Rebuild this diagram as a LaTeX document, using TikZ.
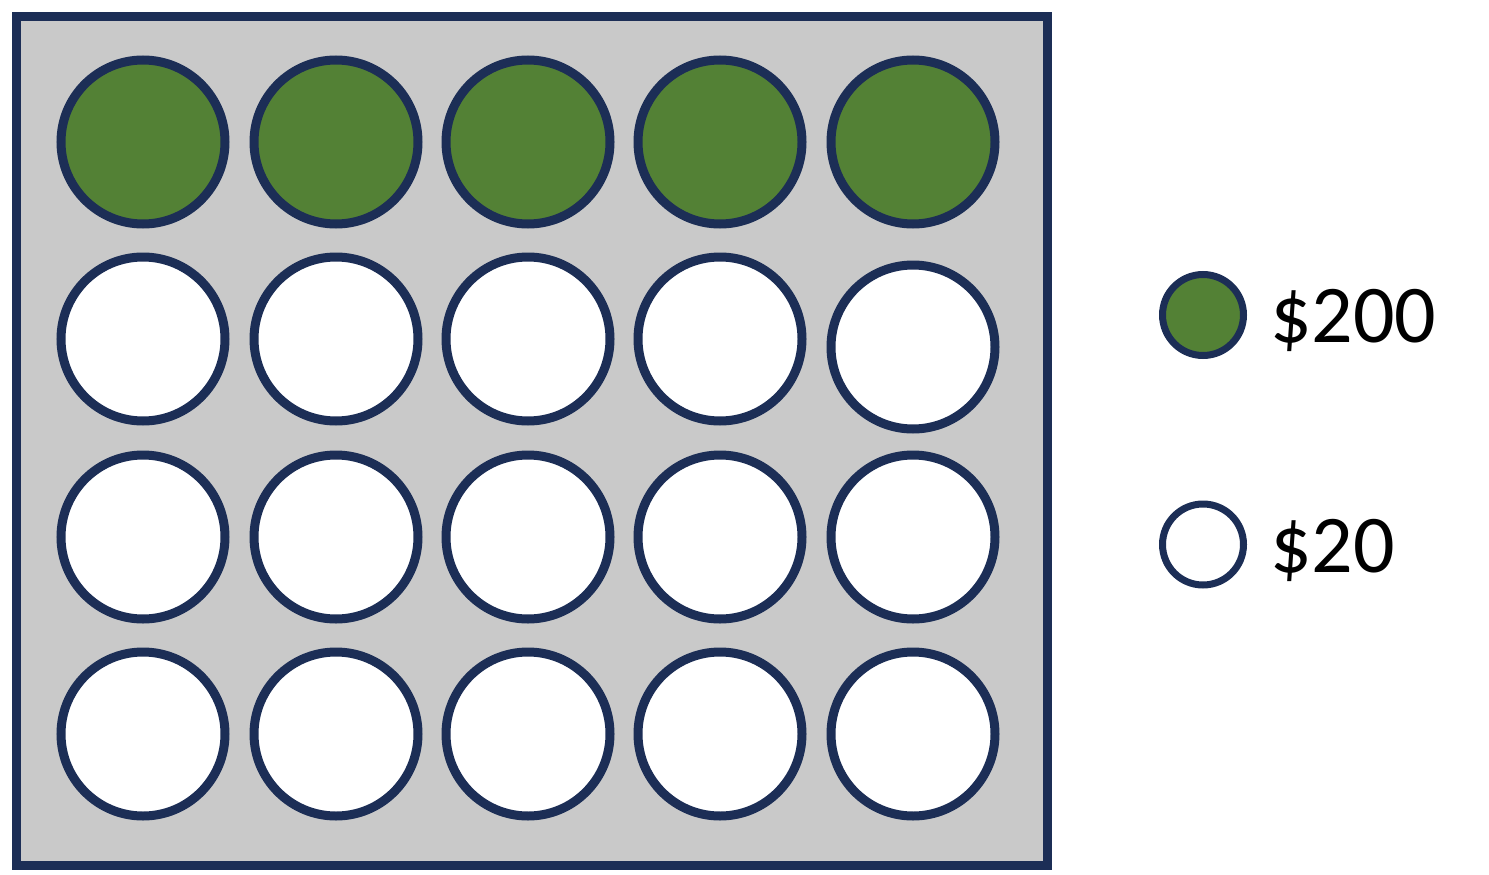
\documentclass[tikz,border=0pt]{standalone}
\usepackage{fontspec}
\setmainfont{Carlito}
\definecolor{navy}{HTML}{1C2E56}
\definecolor{chipgreen}{HTML}{538135}
\definecolor{boardgray}{HTML}{C9C9C9}
\tikzset{
  chip/.style={circle, draw=navy, line width=9pt, minimum size=164pt, inner sep=0pt, fill=white},
  bigchip/.style={chip, fill=chipgreen},
  legchip/.style={circle, draw=navy, line width=7pt, minimum size=81pt, inner sep=0pt},
  legtext/.style={anchor=base west, inner sep=0pt, font=\fontsize{82}{90}\selectfont}
}
\begin{document}
\begin{tikzpicture}[x=1pt,y=-1pt]
\useasboundingbox (0,0) rectangle (1489,875);
\node[draw=navy, fill=boardgray, line width=9pt, minimum width=1031pt, minimum height=849pt, inner sep=0pt, anchor=north west] (board) at (12,12) {};
\foreach \i/\x in {1/143,2/336,3/528,4/720,5/913}{
  \node[bigchip] (g\i) at (\x,142) {};
}
\foreach \i/\x in {1/143,2/336,3/528,4/720}{
  \node[chip] (a\i) at (\x,339) {};
}
\node[chip] (a5) at (913,347) {};
\foreach \i/\x in {1/143,2/336,3/528,4/720,5/913}{
  \node[chip] (b\i) at (\x,537) {};
  \node[chip] (c\i) at (\x,734) {};
}
\node[legchip, fill=chipgreen] (lg) at (1203,315) {};
\node[legchip, fill=white] (lw) at (1203,544.5) {};
\node[legtext] (t200) at (1270,342) {\$200};
\node[legtext] (t20) at (1270,572) {\$20};
\end{tikzpicture}
\end{document}
